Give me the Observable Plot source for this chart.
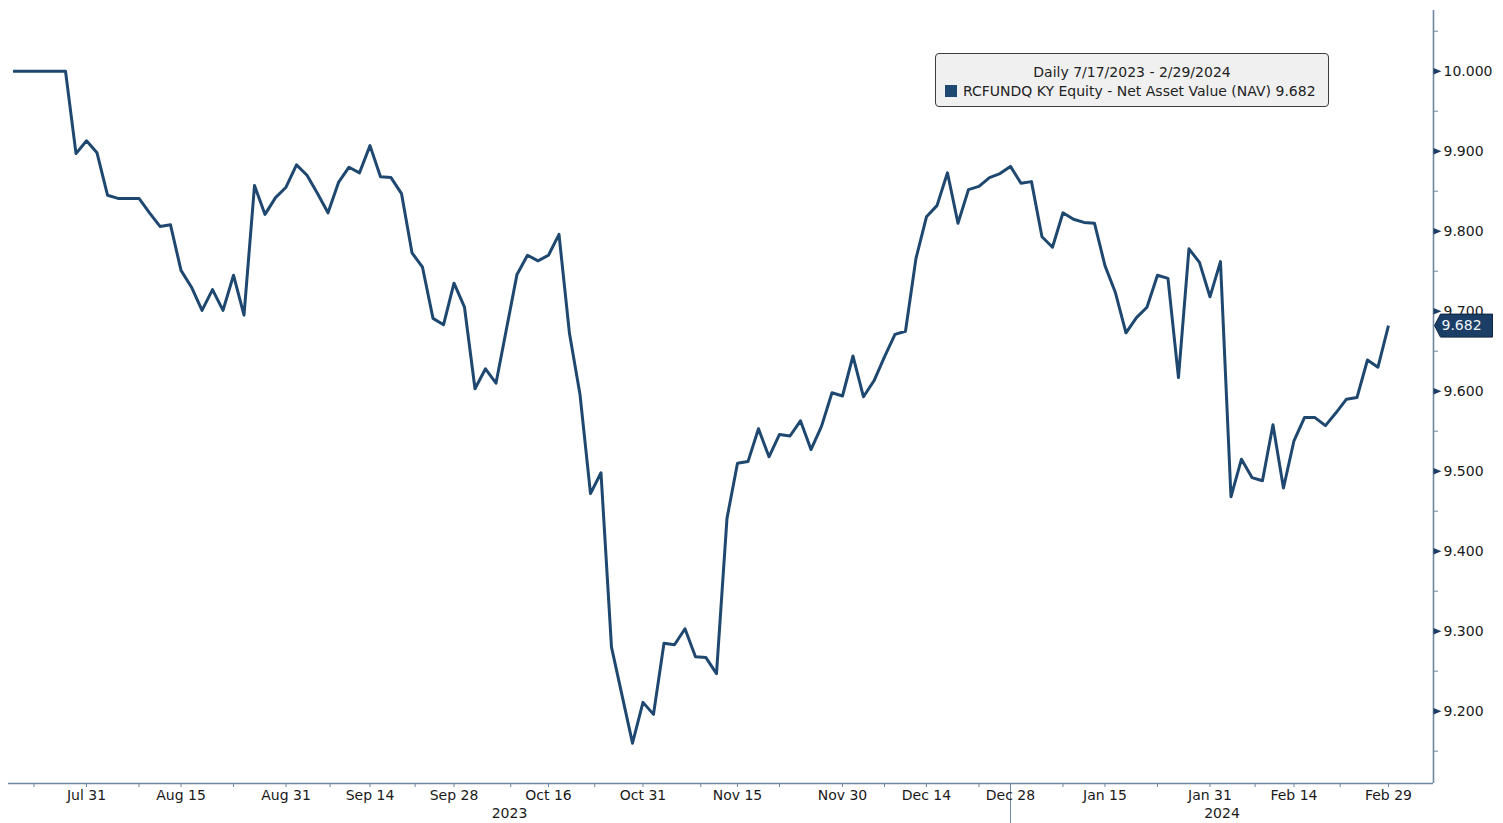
<!DOCTYPE html>
<html>
<head>
<meta charset="utf-8">
<script src="https://cdn.jsdelivr.net/npm/d3@7"></script>
<script src="https://cdn.jsdelivr.net/npm/@observablehq/plot@0.6"></script>
<style>
  html, body { margin: 0; padding: 0; background: #ffffff; }
  #wrap { position: relative; width: 1503px; height: 823px; font-family: "DejaVu Sans", sans-serif; }
  #legend {
    position: absolute; left: 935px; top: 53px; width: 394px; height: 54px;
    box-sizing: border-box; background: #f0f0f0; border: 1px solid #3c3c3c; border-radius: 4px;
    font-size: 14px; color: #222; line-height: 19px; padding: 9px 0 0 9px;
  }
  #legend .l1 { text-align: center; padding-right: 9px; }
  #legend .l2 { white-space: nowrap; }
  #legend .sw { display: inline-block; width: 12px; height: 12px; background: #1f4870; vertical-align: -1px; margin-right: 6px; }
</style>
</head>
<body>
<div id="wrap"></div>
<script>
// ---- data ----
const nav = [
  10.000, 10.000, 10.000, 10.000, 10.000, 10.000, 9.897, 9.913, 9.898, 9.845,
  9.841, 9.841, 9.841, 9.823, 9.806, 9.808, 9.751, 9.730, 9.701, 9.727,
  9.701, 9.745, 9.695, 9.857, 9.821, 9.842, 9.855, 9.883, 9.870, 9.847,
  9.823, 9.861, 9.880, 9.873, 9.907, 9.868, 9.867, 9.847, 9.773, 9.755,
  9.691, 9.683, 9.735, 9.705, 9.603, 9.628, 9.610, 9.678, 9.746, 9.770,
  9.763, 9.770, 9.796, 9.672, 9.596, 9.472, 9.498, 9.280, 9.220, 9.160,
  9.211, 9.196, 9.285, 9.283, 9.303, 9.268, 9.267, 9.247, 9.441, 9.510,
  9.512, 9.553, 9.518, 9.546, 9.544, 9.563, 9.527, 9.556, 9.598, 9.594,
  9.644, 9.593, 9.613, 9.643, 9.671, 9.675, 9.766, 9.818, 9.832, 9.873,
  9.810, 9.852, 9.856, 9.867, 9.872, 9.881, 9.860, 9.862, 9.793, 9.780,
  9.823, 9.815, 9.811, 9.810, 9.757, 9.723, 9.673, 9.692, 9.705, 9.745,
  9.741, 9.617, 9.778, 9.761, 9.718, 9.762, 9.468, 9.515, 9.492, 9.488,
  9.558, 9.479, 9.538, 9.567, 9.567, 9.557, 9.573, 9.590, 9.592, 9.639,
  9.630, 9.682
];
const labeledTicks = [7, 16, 26, 34, 42, 51, 60, 69, 79, 87, 95, 104, 114, 122, 131];
const tickLabels = ["Jul 31", "Aug 15", "Aug 31", "Sep 14", "Sep 28", "Oct 16", "Oct 31", "Nov 15",
                    "Nov 30", "Dec 14", "Dec 28", "Jan 15", "Jan 31", "Feb 14", "Feb 29"];
const minorTicksX = [2, 12, 21, 30.2, 38.3, 47.4, 55.4, 65.5, 73, 83, 92, 100, 109, 118.3, 126.4];
const yearLabels = ["2023", "2024"];
const yearBreak = 95;
const yMajor = [9.2, 9.3, 9.4, 9.5, 9.6, 9.7, 9.8, 9.9, 10.0];
const yMinor = [9.15, 9.25, 9.35, 9.45, 9.55, 9.65, 9.75, 9.85, 9.95, 10.05];
const xDomain = [-0.43, 135.29];
const yDomain = [9.1096, 10.0759];

// ---- styles ----
const navy = "#1f4870";
const axisColor = "#6f87a0";
const textColor = "#1a1a1a";

const data = nav.map((v, i) => ({i, v}));
const last = nav[nav.length - 1];
const labelMap = new Map(labeledTicks.map((t, k) => [t, tickLabels[k]]));
const yearCenters = [(xDomain[0] + yearBreak) / 2, (yearBreak + xDomain[1]) / 2];

const triangle = {draw(ctx) { ctx.moveTo(0, -3.2); ctx.lineTo(8, 0); ctx.lineTo(0, 3.2); ctx.closePath(); }};
const tagShape = {draw(ctx) { ctx.moveTo(1, 0); ctx.lineTo(7, -11.5); ctx.lineTo(59, -11.5); ctx.lineTo(59, 11.5); ctx.lineTo(7, 11.5); ctx.closePath(); }};

const plot = Plot.plot({
  width: 1503,
  height: 823,
  marginLeft: 8,
  marginRight: 70,
  marginTop: 10,
  marginBottom: 40,
  style: {fontFamily: "DejaVu Sans, sans-serif", fontSize: "14px", color: textColor, background: "transparent", overflow: "visible"},
  x: {domain: xDomain, axis: null},
  y: {domain: yDomain, axis: null},
  marks: [
    Plot.line(data, {x: "i", y: "v", stroke: navy, strokeWidth: 3, strokeLinejoin: "round", strokeLinecap: "butt"}),
    Plot.ruleY([yDomain[0]], {stroke: axisColor, strokeWidth: 1.6}),
    Plot.ruleX([xDomain[1]], {stroke: axisColor, strokeWidth: 1.6}),
    Plot.ruleX([yearBreak], {y1: yDomain[0], y2: yDomain[0] - 0.06, stroke: axisColor, strokeWidth: 1}),
    Plot.axisX({anchor: "bottom", ticks: minorTicksX, tickSize: 4, stroke: axisColor, fill: "none", tickFormat: () => "", label: null}),
    Plot.axisX({anchor: "bottom", ticks: labeledTicks, tickSize: 4, tickPadding: 3, stroke: axisColor, fill: textColor,
                tickFormat: d => labelMap.get(d), fontSize: 14, label: null}),
    Plot.text(yearLabels, {x: (d, k) => yearCenters[k], text: d => d, frameAnchor: "bottom", dy: 34, fill: textColor, fontSize: 14}),
    Plot.axisY({anchor: "right", ticks: yMinor, tickSize: 4, stroke: axisColor, fill: "none", tickFormat: () => "", label: null}),
    Plot.axisY({anchor: "right", ticks: yMajor, tickSize: 0, tickPadding: 10, fill: textColor, tickFormat: d3.format(".3f"), fontSize: 14, label: null}),
    Plot.dot(yMajor, {y: d => d, frameAnchor: "right", symbol: triangle, r: 4, fill: "#1c3d62", stroke: null}),
    Plot.dot([last], {y: d => d, frameAnchor: "right", symbol: tagShape, r: 10, fill: "#1b3e66", stroke: "#0e2542", strokeWidth: 1}),
    Plot.text([last], {y: d => d, frameAnchor: "right", dx: 8, text: d => d3.format(".3f")(d), textAnchor: "start", fill: "#f2f6fa", fontSize: 14})
  ]
});

const wrap = document.getElementById("wrap");
wrap.appendChild(plot);
const legend = document.createElement("div");
legend.id = "legend";
legend.innerHTML = '<div class="l1">Daily 7/17/2023 - 2/29/2024</div>' +
  '<div class="l2"><span class="sw"></span>RCFUNDQ KY Equity - Net Asset Value (NAV) ' + d3.format(".3f")(last) + '</div>';
wrap.appendChild(legend);
</script>
</body>
</html>
